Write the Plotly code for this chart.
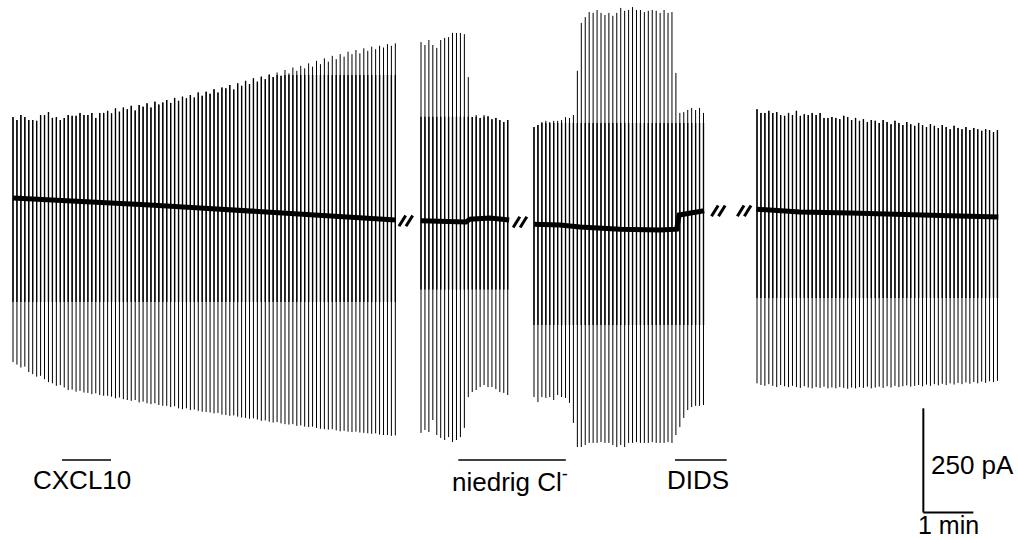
import numpy as np
import plotly.graph_objects as go

# ---------------- data (time in s, current in pA) ----------------
RAMP_INTERVAL = 4.73  # s between voltage ramps

seg1_start = 15.6
seg1_top = [199, 192, 204, 199, 192, 192, 190, 204, 204, 211, 197, 199, 192, 197, 204, 202, 202, 209, 204, 204, 209, 197, 209, 209,
            214, 208, 220, 212, 222, 218, 226, 215, 228, 224, 232, 222, 236, 229, 234, 240, 233, 245, 238, 248,
            244, 252, 246, 258, 250, 260, 255, 266, 258, 270, 268, 276, 265, 280, 274, 286, 278, 292, 284, 296,
            290, 302, 295, 306, 298, 312, 304, 318, 310, 322, 316, 328, 320, 334, 326, 340, 332, 346, 338, 350,
            344, 356, 350, 360, 352, 364, 358, 368, 362, 370, 366, 374, 370, 376]
seg1_bottom = [-389, -395, -402, -400, -413, -418, -424, -422, -430, -437, -440, -446, -444, -450, -456,
               -455, -460, -458, -462, -463, -466, -464, -468, -470, -470, -472, -476, -474, -478, -480,
               -482, -480, -486, -484, -488, -490, -488, -492, -494, -494, -497, -495, -500, -502, -500,
               -504, -503, -506, -508, -509, -510, -512, -511, -515, -516, -518, -517, -520, -522, -523,
               -525, -524, -527, -530, -529, -532, -534, -533, -536, -538, -539, -538, -542, -541, -544,
               -545, -544, -547, -549, -550, -551, -550, -553, -555, -554, -556, -557, -556, -558, -559,
               -560, -561, -560, -563, -564, -564, -566, -565]
seg1_base_t = [15.6, 72, 120, 180, 240, 300, 360, 420, 475]
seg1_base = [5, 0, -5, -12, -19, -26, -34, -41, -48]

seg2_start = 505.2
seg2_top = [379, 372, 384, 372, 365, 384, 389, 391, 401, 401, 401, 398, 295,
            199, 204, 197, 204, 202, 194, 197, 192, 187, 192]
seg2_bottom = [-559, -552, -557, -528, -564, -571, -576, -569, -581, -576, -569, -547, -473,
               -461, -456, -449, -444, -449, -449, -454, -461, -463, -468]
seg2_base_t = [505, 540, 559, 564, 588, 611]
seg2_base = [-50, -53, -53, -46, -43, -48]

seg3_start = 640.8
seg3_top = [175, 180, 187, 190, 187, 190, 190, 192, 199, 197, 204, 310,
            425, 439, 451, 449, 456, 449, 444, 449, 442, 449, 461, 454, 456, 463, 456, 456, 451, 454,
            456, 454, 449, 456, 449, 451, 305,
            209, 211, 216, 221, 216, 221, 209]
seg3_bottom = [-473, -485, -473, -475, -473, -480, -468, -473, -475, -487, -535, -593,
               -593, -588, -583, -583, -583, -581, -583, -583, -588, -593, -588, -593, -583, -583, -581,
               -583, -583, -583, -581, -583, -583, -583, -581, -583, -564,
               -545, -523, -504, -497, -494, -494, -492]
seg3_base_t = [641, 672, 696, 744, 792, 812, 815, 828, 845]
seg3_base = [-58, -60, -65, -70, -72, -70, -36, -31, -26]

seg4_start = 908.4
seg4_top = [218, 209, 209, 214, 209, 211, 204, 202, 209, 204, 214, 202, 206, 204, 209, 204, 209, 197, 197, 199, 197, 194, 202,
            199, 192, 197, 190, 194, 187, 192, 190, 185, 192, 187, 182, 190, 185, 180, 187, 182, 178, 185, 180,
            175, 182, 178, 173, 180, 175, 170, 178, 173, 170, 175, 168, 173, 170, 166, 170, 168, 163, 168]
seg4_bottom = [-440, -444, -446, -442, -446, -449, -444, -447, -449, -446,
               -449, -451, -447, -450, -452, -449, -451, -448, -452, -450,
               -452, -449, -451, -453, -450, -452, -449, -451, -448, -452,
               -450, -448, -451, -447, -450, -446, -449, -447, -445, -448,
               -446, -444, -447, -443, -446, -442, -445, -441, -444, -440,
               -443, -439, -442, -438, -441, -437, -440, -436, -439, -435,
               -437, -434]
seg4_base_t = [908, 960, 1020, 1080, 1140, 1198]
seg4_base = [-22, -29, -31, -36, -38, -41]

# dense (overlapping sweeps) part of each ramp response, per segment: (upper, lower) pA
seg_inner = [(300, -245), (200, -215), (185, -300), (230, -235)]

# application bars: (label, start s, end s, label centre s)
applications = [("CXCL10", 74.4, 133.2, 98.4), ("niedrig Cl<sup>-</sup>", 550, 679, 612), ("DIDS", 810, 872, 838)]
breaks_t = [487, 624, 862, 893]
breaks_y = [-50, -53, -26, -26]

segments = [
    (seg1_start, seg1_top, seg1_bottom),
    (seg2_start, seg2_top, seg2_bottom),
    (seg3_start, seg3_top, seg3_bottom),
    (seg4_start, seg4_top, seg4_bottom),
]
bases = [(seg1_base_t, seg1_base), (seg2_base_t, seg2_base), (seg3_base_t, seg3_base), (seg4_base_t, seg4_base)]

# ---------------- build traces ----------------
sx, sy, ix, iy = [], [], [], []
for (start, tops, bots), (iu, il) in zip(segments, seg_inner):
    times = start + RAMP_INTERVAL * np.arange(len(tops))
    for t, tp, bt in zip(times, tops, bots):
        sx += [t, t, None]
        sy += [bt, tp, None]
        ix += [t, t, None]
        iy += [max(bt, il), min(tp, iu), None]

bx, by = [], []
for bt_, bv in bases:
    bx += list(bt_) + [None]
    by += list(bv) + [None]

fig = go.Figure()
fig.add_trace(go.Scatter(x=sx, y=sy, mode="lines", line=dict(color="black", width=1), hoverinfo="skip"))
fig.add_trace(go.Scatter(x=ix, y=iy, mode="lines", line=dict(color="black", width=1.35), hoverinfo="skip"))
fig.add_trace(go.Scatter(x=bx, y=by, mode="lines", line=dict(color="black", width=5), hoverinfo="skip"))

FONT = dict(family="Liberation Sans, Arial, sans-serif", size=26, color="black")

annotations = []
shapes = []
for label, t0, t1, tc in applications:
    shapes.append(dict(type="line", xref="x", yref="y", x0=t0, x1=t1, y0=-624, y1=-624,
                       line=dict(color="black", width=1.5)))
    annotations.append(dict(x=tc, y=-672, xref="x", yref="y", text=label,
                            showarrow=False, font=FONT, xanchor="center", yanchor="middle"))

# break markers "//" drawn as two slanted heavy strokes
for t, yv in zip(breaks_t, breaks_y):
    for dt in (-4.2, 4.2):
        shapes.append(dict(type="line", xref="x", yref="y",
                           x0=t + dt - 4.0, x1=t + dt + 4.0, y0=yv - 13, y1=yv + 13,
                           line=dict(color="black", width=3)))

# scale bar: 250 pA, 1 min
SB_T, SB_Y = 1108, -750
shapes.append(dict(type="line", xref="x", yref="y", x0=SB_T, x1=SB_T, y0=SB_Y, y1=SB_Y + 250,
                   line=dict(color="black", width=2)))
shapes.append(dict(type="line", xref="x", yref="y", x0=SB_T, x1=SB_T + 60, y0=SB_Y, y1=SB_Y,
                   line=dict(color="black", width=2)))
annotations.append(dict(x=SB_T + 7, y=-636, xref="x", yref="y", text="250 pA", showarrow=False,
                        font=FONT, xanchor="left", yanchor="middle"))
annotations.append(dict(x=SB_T + 30, y=-781, xref="x", yref="y", text="1 min", showarrow=False,
                        font=dict(family="Liberation Sans, Arial, sans-serif", size=25, color="black"),
                        xanchor="center", yanchor="middle"))

fig.update_layout(
    width=1018, height=540, margin=dict(l=0, r=0, t=0, b=0),
    paper_bgcolor="white", plot_bgcolor="white", showlegend=False,
    xaxis=dict(range=[0, 1221.6], visible=False, fixedrange=True),
    yaxis=dict(range=[-816, 480], visible=False, fixedrange=True),
    shapes=shapes, annotations=annotations,
)
fig.write_html("out.html")
